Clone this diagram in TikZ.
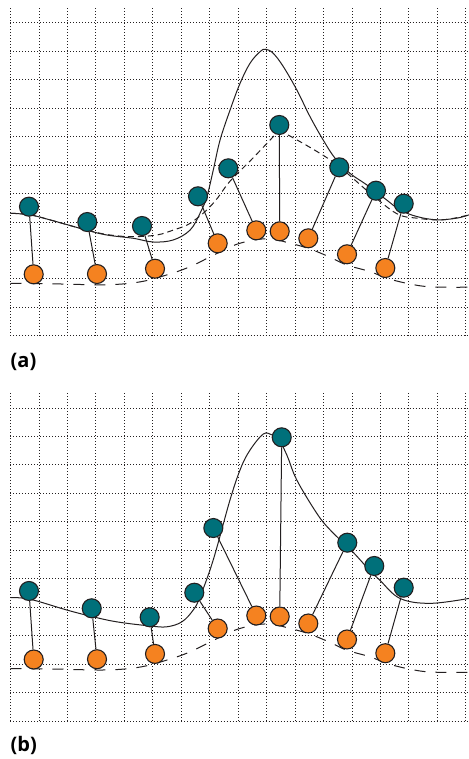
\documentclass[tikz,border=0pt]{standalone}
\usepackage{fontspec}
\newfontfamily\panelfont{Open Sans}
\usepackage{tikz}
\usetikzlibrary{positioning}

\definecolor{tealfill}{RGB}{0,112,122}
\definecolor{orangefill}{RGB}{245,130,32}
\definecolor{inkline}{RGB}{35,31,32}

\tikzset{
  griddots/.style={inkline, line width=0.75pt, dash pattern=on 0.75pt off 2.25pt},
  tealdot/.style={circle, draw=inkline, fill=tealfill, line width=1.1pt, minimum size=19pt, inner sep=0pt},
  orangedot/.style={circle, draw=inkline, fill=orangefill, line width=1.1pt, minimum size=19pt, inner sep=0pt},
  stem/.style={inkline, line width=1pt},
  fitcurve/.style={inkline, line width=1pt},
  shortdash/.style={inkline, line width=1pt, dash pattern=on 6pt off 4pt},
  longdash/.style={inkline, line width=1pt, dash pattern=on 11pt off 10pt},
  panellabel/.style={anchor=west, inner sep=0pt, font=\panelfont\bfseries\fontsize{20}{24}\selectfont}
}

% orange points are the same in both panels
\def\orangelist{1/0.650/1.494, 2/2.423/1.501, 3/4.048/1.630, 4/5.804/2.248, 5/6.885/2.564,
  6/7.541/2.540, 7/8.342/2.370, 8/9.426/1.981, 9/10.499/1.647}
\newcommand{\bumpcurve}{plot[smooth, tension=0.6] coordinates {(0,1.275) (1.3,1.26) (2.7,1.24)
  (3.63,1.31) (4.38,1.48) (5.03,1.68) (5.78,2.0) (6.43,2.25) (7.2,2.36) (7.83,2.25) (8.39,2.11)
  (8.95,1.91) (9.42,1.72) (10.07,1.56) (10.54,1.40) (11.1,1.275) (11.75,1.19) (12.843,1.18)}}

\begin{document}
\begin{tikzpicture}[x=35.7pt, y=41.1pt]
  \useasboundingbox (-0.294,-10.299) rectangle (12.843,8.168);
  % Top panel (a)
  \begin{scope}
    \draw[griddots] (0,0) grid (12.843,8);
    \draw[longdash] \bumpcurve;
    \draw[shortdash] plot[smooth, tension=0.6] coordinates {(0,2.98) (0.55,2.94) (1.1,2.82) (2.13,2.57)
      (2.79,2.45) (3.43,2.41) (4.1,2.45) (4.56,2.57) (4.94,2.69) (5.17,2.82) (5.5,3.06) (5.8,3.35)
      (6.15,3.76) (6.8,4.33) (7.53,5.0)}
      plot[smooth, tension=0.6] coordinates {(7.53,5.0) (8.95,4.28) (10.07,3.47) (10.82,2.97)
      (11.38,2.86) (12.12,2.82) (12.843,2.94)};
    \draw[fitcurve] plot[smooth, tension=0.6] coordinates {(0,2.98) (0.55,2.94) (1.1,2.82) (2.13,2.57)
      (2.7,2.45) (3.44,2.37) (4.0,2.28) (4.56,2.33) (5.03,2.57) (5.31,2.98) (5.5,3.38) (5.68,4.03)
      (5.87,4.76) (6.15,5.49) (6.43,6.14) (6.71,6.63) (6.99,6.91) (7.15,6.97) (7.36,6.87) (7.64,6.55)
      (8.02,5.98) (8.39,5.33) (8.76,4.76) (9.09,4.32) (9.51,3.95) (9.98,3.67) (10.54,3.30) (10.91,3.06)
      (11.38,2.9) (11.94,2.82) (12.5,2.86) (12.843,2.94)};
    \foreach \i/\x/\y in \orangelist
      \node[orangedot] (ao\i) at (\x,\y) {};
    \foreach \i/\x/\y in {1/0.518/3.139, 2/2.151/2.766, 3/3.683/2.669, 4/5.252/3.392, 5/6.101/4.073,
      6/7.529/5.127, 7/9.210/4.097, 8/10.238/3.528, 9/11.014/3.212}
      \node[tealdot] (at\i) at (\x,\y) {};
    \foreach \i in {1,...,9}
      \draw[stem] (at\i) -- (ao\i);
    \node[panellabel] (alabel) at (0,-0.64) {(a)};
  \end{scope}
  % Bottom panel (b)
  \begin{scope}[shift={(0,-9.372)}]
    \draw[griddots] (0,0) grid (12.843,8);
    \draw[longdash] \bumpcurve;
    \draw[fitcurve] plot[smooth, tension=0.6] coordinates {(0,3.0) (0.55,2.96) (1.57,2.70) (2.28,2.54)
      (2.98,2.41) (3.91,2.31) (4.38,2.29) (4.8,2.41) (5.12,2.70) (5.31,3.02) (5.68,3.92) (6.15,5.38)
      (6.45,6.15) (6.71,6.59) (7.08,6.98) (7.32,6.96) (7.5,6.88) (7.75,6.45) (8.02,5.86) (8.58,5.05)
      (8.95,4.65) (9.6,4.1) (10.0,3.72) (10.35,3.42) (10.91,2.98) (11.75,2.86) (12.843,2.98)};
    \foreach \i/\x/\y in \orangelist
      \node[orangedot] (bo\i) at (\x,\y) {};
    \foreach \i/\x/\y in {1/0.518/3.161, 2/2.275/2.740, 3/3.899/2.521, 4/5.148/3.119, 5/5.681/4.693,
      6/7.597/6.900, 7/9.434/4.336, 8/10.190/3.769, 9/11.014/3.241}
      \node[tealdot] (bt\i) at (\x,\y) {};
    \foreach \i in {1,...,9}
      \draw[stem] (bt\i) -- (bo\i);
    \node[panellabel] (blabel) at (0,-0.59) {(b)};
  \end{scope}
\end{tikzpicture}
\end{document}
